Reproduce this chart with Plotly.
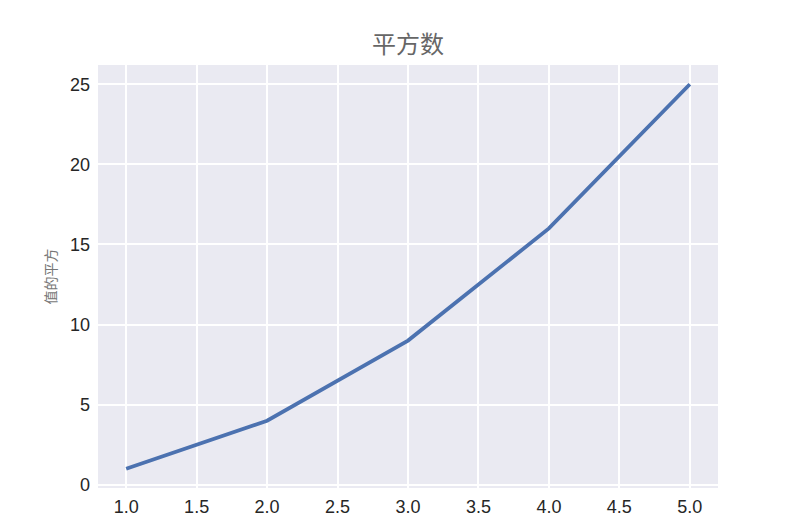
import plotly.graph_objects as go

x_values = [1, 2, 3, 4, 5]
y_values = [1, 4, 9, 16, 25]
title_text = "平方数"
y_label = "值的平方"
x_ticks = [1.0, 1.5, 2.0, 2.5, 3.0, 3.5, 4.0, 4.5, 5.0]
x_tick_labels = ["1.0", "1.5", "2.0", "2.5", "3.0", "3.5", "4.0", "4.5", "5.0"]
y_ticks = [0, 5, 10, 15, 20, 25]

fig = go.Figure()
fig.add_trace(go.Scatter(x=x_values, y=y_values, mode="lines",
                         line=dict(color="#4C72B0", width=3.8)))

fig.update_layout(
    width=797, height=518,
    paper_bgcolor="white", plot_bgcolor="#EAEAF2",
    margin=dict(l=90, r=87, t=57, b=38, autoexpand=False),
    showlegend=False,
    title=dict(text=title_text, x=(90 + 310) / 797, xanchor="center", y=1 - 37/518, yanchor="middle",
               font=dict(family="Noto Sans CJK SC", size=24, color="#666666")),
    font=dict(family="Liberation Sans, Arial", size=18, color="#262626"),
)
fig.update_xaxes(range=[0.8, 5.2], tickvals=x_ticks, ticktext=x_tick_labels,
                 showgrid=True, gridcolor="white", gridwidth=1.5, zeroline=False,
                 showline=False, ticks="", ticklabelstandoff=6,
                 tickfont=dict(size=18, color="#262626"))
fig.update_yaxes(range=[-0.2, 26.2], tickvals=y_ticks,
                 showgrid=True, gridcolor="white", gridwidth=1.5, zeroline=False,
                 showline=False, ticks="", ticklabelstandoff=7,
                 tickfont=dict(size=18, color="#262626"),
                 title=dict(text=y_label, standoff=10,
                            font=dict(family="Noto Sans CJK SC", size=14, color="#777777")))

fig.write_html("out.html")
